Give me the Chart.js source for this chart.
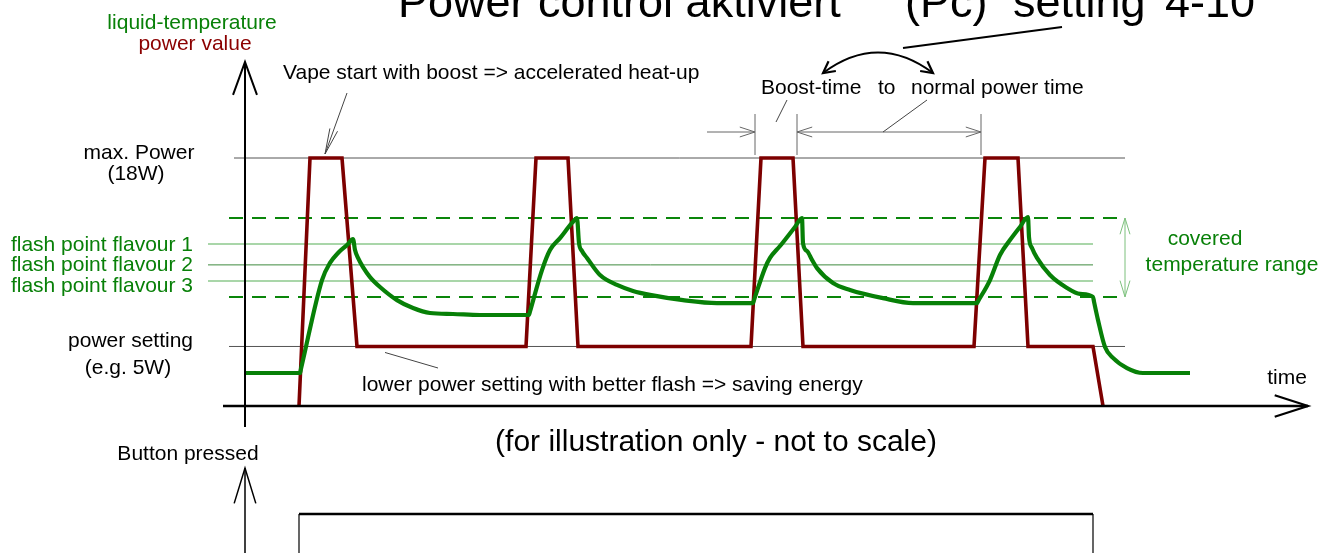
<!DOCTYPE html>
<html><head><meta charset="utf-8">
<script src="https://cdn.jsdelivr.net/npm/chart.js@4.4.1/dist/chart.umd.min.js"></script>
<style>html,body{margin:0;padding:0;background:#fff;overflow:hidden}#wrap{position:relative;width:1336px;height:553px}</style>
</head><body><div id="wrap"><canvas id="c"></canvas></div>
<script>
// time: arbitrary units (0 = vertical axis); level: 0 = time axis, 100 = max. power (not to scale)
const powerTime  = [5.4, 6.5, 9.7, 11.2, 28.1, 29.1, 32.3, 33.3, 50.6, 51.6, 54.8, 55.8, 72.9, 74.0, 77.3, 78.3, 84.8, 85.8];
const powerLevel = [0, 100, 100, 24, 24, 100, 100, 24, 24, 100, 100, 24, 24, 100, 100, 24, 24, 0];

const tempTime  = [0.0, 5.5, 5.6, 7.7, 8.5, 9.3, 10.2, 10.8, 11.0, 11.3, 11.8, 12.5, 13.5, 15.2, 16.8, 18.5, 20.8, 23.5, 28.4,
                   28.5, 29.7, 30.5, 31.5, 32.7, 33.2, 33.4, 33.7, 34.2, 35.5, 37.2, 38.8, 40.5, 43.8, 47.2, 50.8,
                   50.9, 52.0, 52.5, 53.5, 55.0, 55.7, 55.8, 56.2, 56.7, 57.2, 58.8, 60.5, 63.8, 66.8, 73.2,
                   73.3, 74.5, 75.5, 76.5, 77.5, 78.3, 78.4, 78.7, 79.2, 80.5, 82.2, 83.5, 84.8,
                   84.9, 85.3, 86.0, 86.8, 88.2, 89.8, 94.5];
const tempLevel = [13.3, 13.3, 15.0, 50.8, 57.7, 61.7, 64.9, 67.3, 62.9, 59.7, 56.0, 52.0, 48.0, 42.7, 39.5, 37.5, 37.1, 36.7, 36.7,
                   38.1, 54.8, 62.9, 67.7, 73.8, 75.8, 65.7, 62.5, 59.7, 52.8, 48.8, 46.4, 44.8, 42.7, 41.5, 41.5,
                   42.7, 55.6, 59.7, 64.5, 72.2, 75.8, 65.7, 62.5, 58.9, 55.6, 49.6, 46.8, 43.5, 41.5, 41.5,
                   42.2, 50.8, 60.9, 66.9, 72.2, 76.2, 68.1, 63.7, 59.7, 52.8, 47.6, 45.2, 44.0,
                   42.1, 34.7, 23.8, 19.4, 15.3, 13.3, 13.3];

const buttonTime  = [5.4, 5.4, 84.8, 84.8];
const buttonLevel = [-62, -43.5, -43.5, -62];

const refNames  = ['max. Power', 'range top', 'flash point flavour 1', 'flash point flavour 2', 'flash point flavour 3', 'range bottom', 'power setting'];
const refLevels = [100, 75.8, 65.3, 56.9, 50.4, 44.0, 24];
const refStart  = [-1.1, -1.6, -3.7, -3.7, -3.7, -1.6, -1.6];
const refEnd    = [88.0, 88.0, 84.8, 84.8, 84.8, 88.0, 88.0];

const refStyles = [
  {c:'#555555', w:1, d:[]},
  {c:'#0a860a', w:2, d:[14,9]},
  {c:'#8cc98c', w:1.5, d:[]},
  {c:'#3f8a3f', w:1, d:[]},
  {c:'#8cc98c', w:1.5, d:[]},
  {c:'#0a860a', w:2, d:[14,9]},
  {c:'#555555', w:1, d:[]}
];

const zip = (xs, ys) => xs.map((x, i) => ({x: x, y: ys[i]}));

const datasets = [];
datasets.push({label:'temperature', data: zip(tempTime, tempLevel), borderColor:'#078007', borderWidth:4.2, order:0, clip:false,
  borderJoinStyle:'round', cubicInterpolationMode:'monotone'});
datasets.push({label:'power', data: zip(powerTime, powerLevel), borderColor:'#7d0000', borderWidth:3.6, order:1, clip:false, borderJoinStyle:'miter'});
datasets.push({label:'button', data: zip(buttonTime, buttonLevel), borderColor:'#000000', borderWidth:1.5, order:2, clip:false,
  segment:{borderWidth: c => (c.p0DataIndex === 1 ? 2.5 : 1.2)}});
refLevels.forEach((lv, i) => {
  datasets.push({label: refNames[i], data: [{x: refStart[i], y: lv}, {x: refEnd[i], y: lv}],
    borderColor: refStyles[i].c, borderWidth: refStyles[i].w, borderDash: refStyles[i].d, order: 5, clip:false});
});

function seg(ctx, pts, w, color, dash) {
  ctx.save(); ctx.beginPath(); ctx.lineWidth = w; ctx.strokeStyle = color; ctx.setLineDash(dash || []);
  ctx.lineCap = 'butt';
  ctx.moveTo(pts[0], pts[1]);
  for (let i = 2; i < pts.length; i += 2) ctx.lineTo(pts[i], pts[i + 1]);
  ctx.stroke(); ctx.restore();
}
function head(ctx, tx, ty, fx, fy, len, ang, w, color) {
  const a = Math.atan2(fy - ty, fx - tx), r = ang * Math.PI / 180;
  seg(ctx, [tx + len * Math.cos(a + r), ty + len * Math.sin(a + r), tx, ty, tx + len * Math.cos(a - r), ty + len * Math.sin(a - r)], w, color);
}
function txt(ctx, s, x, y, size, color, align) {
  ctx.save(); ctx.font = size + 'px "Liberation Sans", Arial, sans-serif'; ctx.fillStyle = color;
  ctx.textAlign = align || 'left'; ctx.textBaseline = 'alphabetic'; ctx.fillText(s, x, y); ctx.restore();
}

const decor = {
  id: 'decor',
  afterDraw(chart) {
    const ctx = chart.ctx, xs = chart.scales.x, ys = chart.scales.y;
    const X = v => xs.getPixelForValue(v), Y = v => ys.getPixelForValue(v);
    const ax = X(0), ay = Y(0);
    const K = '#000', G = '#088008', R = '#8b0000', S = '#444';
    // axes
    seg(ctx, [ax, 62, ax, ay + 21], 2, K);
    head(ctx, ax, 62, ax, 100, 35, 20, 2, K);
    seg(ctx, [223, ay, 1308, ay], 2.6, K);
    head(ctx, 1308, ay, 1270, ay, 35, 18, 2.2, K);
    seg(ctx, [ax, 468, ax, 553], 1.5, K);
    head(ctx, ax, 468, ax, 510, 37, 17, 1.5, K);

    // titles & labels
    const big = 45;
    txt(ctx, 'Power control aktiviert', 398, 17, big, K);
    txt(ctx, '(Pc)', 905, 17, big, K);
    txt(ctx, 'setting', 1013, 17, big, K);
    txt(ctx, '4-10', 1165, 17, big, K);

    txt(ctx, 'liquid-temperature', 192, 29, 21, G, 'center');
    txt(ctx, 'power value', 195, 50, 21, R, 'center');
    txt(ctx, 'max. Power', 139, Y(refLevels[0]) + 1, 21, K, 'center');
    txt(ctx, '(18W)', 136, Y(refLevels[0]) + 22, 21, K, 'center');
    txt(ctx, refNames[2], 193, 251, 21, G, 'right');
    txt(ctx, refNames[3], 193, 271, 21, G, 'right');
    txt(ctx, refNames[4], 193, 292, 21, G, 'right');
    txt(ctx, 'power setting', 193, 347, 21, K, 'right');
    txt(ctx, '(e.g. 5W)', 128, 374, 21, K, 'center');
    txt(ctx, 'Vape start with boost => accelerated heat-up', 283, 79, 21, K);
    txt(ctx, 'Boost-time', 761, 94, 21, K);
    txt(ctx, 'to', 878, 94, 21, K);
    txt(ctx, 'normal power time', 911, 94, 21, K);
    txt(ctx, 'lower power setting with better flash => saving energy', 362, 391, 21, K);
    txt(ctx, 'covered', 1205, 245, 21, G, 'center');
    txt(ctx, 'temperature range', 1232, 271, 21, G, 'center');
    txt(ctx, 'time', 1287, 384, 21, K, 'center');
    txt(ctx, '(for illustration only - not to scale)', 716, 451, 30, K, 'center');
    txt(ctx, 'Button pressed', 188, 460, 21, K, 'center');

    // title pointer + curved double arrow
    seg(ctx, [1062, 27, 903, 48], 2, K);
    ctx.save(); ctx.beginPath(); ctx.lineWidth = 2; ctx.strokeStyle = K;
    ctx.moveTo(823, 73); ctx.quadraticCurveTo(878, 32, 933, 73); ctx.stroke(); ctx.restore();
    head(ctx, 823, 73, 878, 32, 13, 28, 2.2, K);
    head(ctx, 933, 73, 878, 32, 13, 28, 2.2, K);

    // vape start pointer
    seg(ctx, [347, 93, 325, Y(100) - 4], 1, S);
    head(ctx, 325, Y(100) - 4, 347, 93, 26, 9, 1, S);

    // boost time dimension marks
    const t1 = X(51.0), t2 = X(55.2), t3 = X(73.6), dy = 132;
    [t1, t2, t3].forEach(t => seg(ctx, [t, 114, t, 155], 1, '#666'));
    seg(ctx, [707, dy, t1, dy], 1, '#666');
    head(ctx, t1, dy, t1 - 20, dy, 16, 18, 1, '#666');
    seg(ctx, [t2, dy, t3, dy], 1, '#666');
    head(ctx, t2, dy, t2 + 20, dy, 16, 18, 1, '#666');
    head(ctx, t3, dy, t3 - 20, dy, 16, 18, 1, '#666');
    seg(ctx, [787, 100, 776, 122], 1, S);
    seg(ctx, [927, 100, 883, dy], 1, S);

    // lower power pointer
    seg(ctx, [385, Y(24) + 6, 438, 368], 1, S);

    // covered temperature range arrow
    const cx = 1125, yt = Y(refLevels[1]), yb = Y(refLevels[5]);
    seg(ctx, [cx, yt, cx, yb], 1, '#7cc07c');
    head(ctx, cx, yt, cx, yt + 20, 17, 17, 1, '#7cc07c');
    head(ctx, cx, yb, cx, yb - 20, 17, 17, 1, '#7cc07c');
  }
};

new Chart(document.getElementById('c'), {
  type: 'line',
  data: { datasets: datasets },
  options: {
    responsive: true, maintainAspectRatio: false, animation: false,
    layout: { padding: { left: 245, right: 91, top: 158, bottom: 147 } },
    elements: { point: { radius: 0 }, line: { tension: 0 } },
    plugins: { legend: { display: false }, tooltip: { enabled: false } },
    scales: {
      x: { type: 'linear', min: 0, max: 100, display: false },
      y: { type: 'linear', min: 0, max: 100, display: false }
    }
  },
  plugins: [decor]
});
</script></body></html>
